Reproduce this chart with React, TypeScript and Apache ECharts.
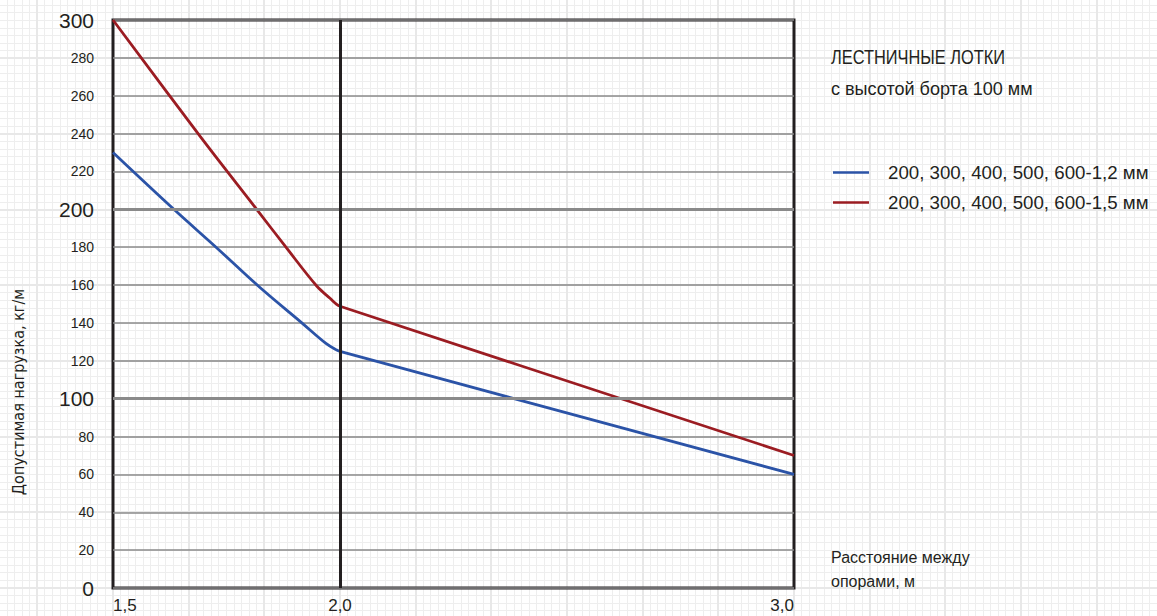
import React, { useEffect, useRef } from 'react';
import * as echarts from 'echarts';

const FONT = '"Liberation Sans", Arial, sans-serif';
const FONT_COND = '"DejaVu Sans Condensed", "Liberation Sans", sans-serif';

const seriesNames = ['200, 300, 400, 500, 600-1,2 мм', '200, 300, 400, 500, 600-1,5 мм'];
const blueX = [1.5, 1.634, 1.727, 1.82, 1.919, 1.969, 1.9927, 2.0, 3.0];
const blueY = [230, 200, 180, 159.5, 139.4, 129.2, 125.7, 125, 60];
const redX = [1.5, 1.692, 1.8165, 1.8826, 1.9487, 1.978, 1.9927, 2.0, 3.0];
const redY = [300, 238.5, 200, 179.5, 159.5, 153, 149.8, 148.8, 70];

const xTicks = [1.5, 2.0, 3.0];
const xTickLabels = ['1,5', '2,0', '3,0'];
const yBoldTicks = [0, 100, 200, 300];
const yThickLines = [100, 200];
const xDividers = [2.0];

const titleLines = ['ЛЕСТНИЧНЫЕ ЛОТКИ', 'с высотой борта 100 мм'];
const yAxisName = 'Допустимая нагрузка, кг/м';
const xAxisName = 'Расстояние между\nопорами, м';

const BLUE = '#2b53a7';
const RED = '#9b1c22';
const FRAME = '#231f20';
const GRIDC = '#8a8a8a';
const TEXT = '#231f20';

const bg = [
  'repeating-linear-gradient(90deg, transparent 0 36.33px, #e8e8e8 36.33px 38.33px, transparent 38.33px 75.667px)',
  'repeating-linear-gradient(180deg, transparent 0 57.33px, #e8e8e8 57.33px 59.33px, transparent 59.33px 75.667px)',
  'repeating-linear-gradient(90deg, transparent 0 6.57px, #eeeeee 6.57px 7.5667px)',
  'repeating-linear-gradient(180deg, transparent 0 4.87px, #eeeeee 4.87px 5.87px, transparent 5.87px 7.5667px)',
].join(',');

export default function App() {
  const ref = useRef<HTMLDivElement>(null);
  useEffect(() => {
    if (!ref.current) return;
    const chart = echarts.init(ref.current, null, { renderer: 'svg' });
    const zip = (xs: number[], ys: number[]) => xs.map((x, i) => [x, ys[i]]);
    chart.setOption({
      animation: false,
      backgroundColor: 'transparent',
      textStyle: { fontFamily: FONT },
      grid: {
        left: 113, right: 363, top: 20, bottom: 28,
        show: true, borderColor: FRAME, borderWidth: 3, backgroundColor: 'transparent',
      },
      legend: {
        data: seriesNames,
        orient: 'vertical',
        left: 833,
        top: 163,
        padding: 0,
        icon: 'rect',
        itemWidth: 36,
        itemHeight: 2.6,
        itemGap: 11,
        textStyle: { fontFamily: FONT, fontSize: 18.7, color: TEXT, padding: [0, 0, 0, 14] },
      },
      xAxis: {
        type: 'value', min: 1.5, max: 3.0, interval: 0.5,
        axisLine: { show: false }, axisTick: { show: false }, splitLine: { show: false },
        axisLabel: {
          margin: 9, fontSize: 17, color: TEXT, fontFamily: FONT,
          alignMinLabel: 'left', alignMaxLabel: 'right',
          formatter: (v: number) => {
            const i = xTicks.findIndex((t) => Math.abs(t - v) < 1e-6);
            return i >= 0 ? xTickLabels[i] : '';
          },
        },
      },
      yAxis: {
        type: 'value', min: 0, max: 300, interval: 20,
        axisLine: { show: false }, axisTick: { show: false },
        splitLine: { show: true, lineStyle: { color: GRIDC, width: 1.5 } },
        axisLabel: {
          margin: 19, color: TEXT, fontFamily: FONT,
          formatter: (v: number) => (yBoldTicks.includes(v) ? `{big|${v}}` : `{small|${v}}`),
          rich: {
            big: { fontSize: 21, fontFamily: FONT, color: TEXT },
            small: { fontSize: 14, fontFamily: FONT, color: TEXT },
          },
        },
      },
      series: [
        {
          name: 'dividers', type: 'line', data: [], z: 1, silent: true,
          markLine: {
            silent: true, symbol: 'none', label: { show: false },
            data: [
              ...yThickLines.map((y) => ({ yAxis: y, lineStyle: { color: GRIDC, width: 3, type: 'solid' } })),
              ...xDividers.map((x) => ({ xAxis: x, lineStyle: { color: FRAME, width: 3, type: 'solid' } })),
            ],
          },
        },
        {
          name: seriesNames[0], type: 'line', data: zip(blueX, blueY), showSymbol: false, symbol: 'none',
          smooth: 0.35,
          lineStyle: { color: BLUE, width: 2.8 }, itemStyle: { color: BLUE }, z: 3,
        },
        {
          name: seriesNames[1], type: 'line', data: zip(redX, redY), showSymbol: false, symbol: 'none',
          smooth: 0.35,
          lineStyle: { color: RED, width: 2.8 }, itemStyle: { color: RED }, z: 3,
        },
      ],
      graphic: [
        {
          type: 'text', x: 831, y: 46, scaleX: 0.78,
          style: { text: titleLines[0], font: `21px ${FONT}`, fill: TEXT, verticalAlign: 'top' },
        },
        {
          type: 'text', x: 831, y: 79, scaleX: 0.95,
          style: { text: titleLines[1], font: `19px ${FONT}`, fill: TEXT, verticalAlign: 'top' },
        },
        {
          type: 'text', x: 18, y: 392, rotation: Math.PI / 2,
          style: { text: yAxisName, font: `16px ${FONT_COND}`, fill: TEXT, align: 'center', verticalAlign: 'middle' },
        },
        {
          type: 'text', x: 831, y: 546, scaleX: 1,
          style: { text: xAxisName, font: `16px ${FONT}`, fill: TEXT, lineHeight: 23.5, verticalAlign: 'top' },
        },
      ],
    });
    return () => chart.dispose();
  }, []);
  return (
    <div style={{ position: 'fixed', left: 0, top: 0, width: 1157, height: 616, backgroundColor: '#fff', backgroundImage: bg }}>
      <div ref={ref} style={{ width: 1157, height: 616 }} />
    </div>
  );
}
